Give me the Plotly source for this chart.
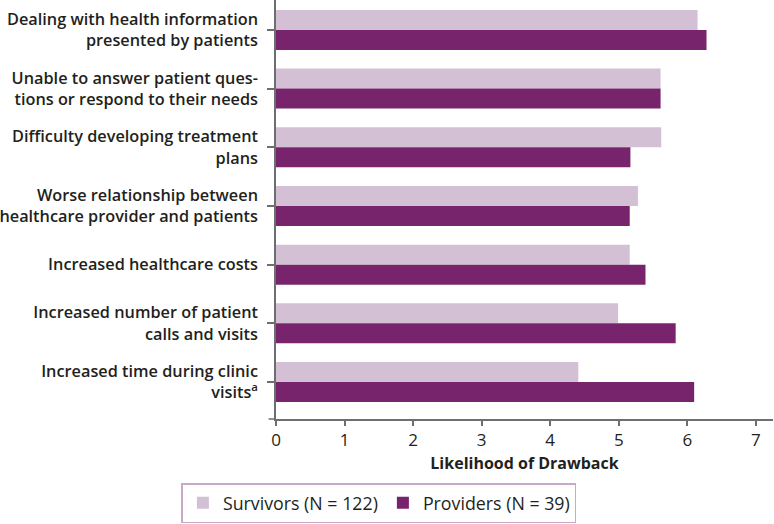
import plotly.graph_objects as go

categories = [
    "Dealing with health information<br>presented by patients",
    "Unable to answer patient ques-<br>tions or respond to their needs",
    "Difficulty developing treatment<br>plans",
    "Worse relationship between<br>healthcare provider and patients",
    "Increased healthcare costs",
    "Increased number of patient<br>calls and visits",
    "Increased time during clinic<br>visits<sup>a</sup>",
]
survivors = [6.15, 5.61, 5.62, 5.28, 5.16, 4.99, 4.41]
providers = [6.28, 5.61, 5.17, 5.16, 5.39, 5.83, 6.10]
x_ticks = [0, 1, 2, 3, 4, 5, 6, 7]

FONT = "Open Sans"
TXT = "#231F20"

fig = go.Figure()
fig.add_trace(go.Bar(
    y=categories, x=survivors, orientation="h",
    name="Survivors (N = 122)", marker=dict(color="#D4C0D4", line=dict(width=0)),
))
fig.add_trace(go.Bar(
    y=categories, x=providers, orientation="h",
    name="Providers (N = 39)", marker=dict(color="#77246D", line=dict(width=0)),
))

fig.update_layout(
    width=774, height=524,
    margin=dict(l=276, r=1, t=0, b=105, autoexpand=False),
    paper_bgcolor="white", plot_bgcolor="white",
    barmode="group", bargap=0.318, bargroupgap=0,
    font=dict(family=FONT, color=TXT, size=16),
    showlegend=True,
    legend=dict(
        orientation="h", x=0.207, xanchor="center", y=-0.153, yanchor="top",
        bordercolor="#C9A9C8", borderwidth=1.5,
        font=dict(family=FONT, size=17.8, color=TXT),
        itemclick=False,
    ),
    xaxis=dict(
        range=[0, 7.25], tickvals=x_ticks, ticktext=[str(v) for v in x_ticks],
        showgrid=False, zeroline=False, automargin=False,
        showline=True, linecolor="#6D6E71", linewidth=1.5,
        ticks="outside", ticklen=5, tickcolor="#6D6E71", tickwidth=1.5,
        tickfont=dict(family=FONT, size=17, color=TXT, weight=500),
        title=dict(text="<b>Likelihood of Drawback</b>", font=dict(family=FONT, size=16, color=TXT), standoff=8),
    ),
    yaxis=dict(
        type="category", range=[6.63, -0.51],
        showgrid=False, zeroline=False, automargin=False,
        showline=True, linecolor="#6D6E71", linewidth=1.5,
        ticks="outside", ticklen=7, tickcolor="#6D6E71", tickwidth=1.5,
        tickfont=dict(family=FONT, size=16.3, color=TXT, weight=600),
        ticklabelstandoff=6,
    ),
)
# small extension of the x-axis line to the left of the y-axis (as in the reference)
fig.add_shape(type="line", xref="paper", yref="paper", x0=-0.015, x1=0, y0=0, y1=0,
              line=dict(color="#6D6E71", width=1.5))

fig.write_html("out.html", config={"displayModeBar": False},
               post_script="document.body.style.margin='0';")
